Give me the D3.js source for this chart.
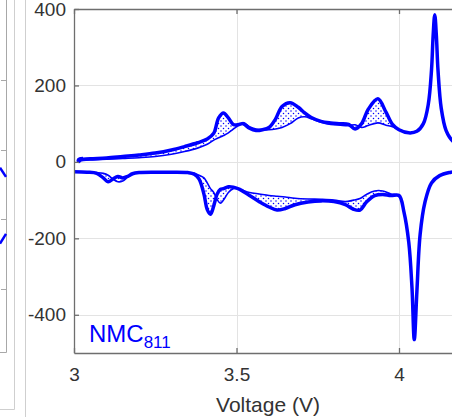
<!DOCTYPE html>
<html>
<head>
<meta charset="utf-8">
<script src="https://cdn.jsdelivr.net/npm/d3@7"></script>
<style>
  html, body { margin: 0; padding: 0; background: #fff; }
  svg { display: block; font-family: "Liberation Sans", Arial, sans-serif; }
</style>
</head>
<body>
<div id="chart"></div>
<script>
// dQ/dV style plot, NMC811 panel (neighbouring panel only partly visible on the left)

// ---------------------------------------------------------------------//
//                                 Data                                 //
// ---------------------------------------------------------------------//

// charge branch (positive), voltage grid shared by both cycles
var chgV = [3.02, 3.05, 3.10, 3.15, 3.20, 3.25, 3.30, 3.34, 3.38, 3.41, 3.43, 3.445, 3.46, 3.475,
  3.49, 3.505, 3.52, 3.54, 3.56, 3.58, 3.60, 3.62, 3.64, 3.665, 3.69, 3.71, 3.73, 3.76, 3.79,
  3.82, 3.845, 3.865, 3.885, 3.905, 3.935, 3.96, 3.98, 4.00, 4.03, 4.055, 4.075, 4.09, 4.10,
  4.105, 4.11, 4.115, 4.12, 4.13, 4.145, 4.165, 4.20];
// thick line (first cycle)
var chgThick = [6, 8, 10, 14, 18, 23, 31, 40, 50, 60, 75, 115, 128, 115,
  98, 97, 100, 88, 82, 84, 90, 112, 145, 155, 143, 128, 116, 106, 102,
  100, 98, 86, 100, 137, 165, 130, 98, 84, 76, 80, 100, 150, 240,
  330, 385, 330, 240, 140, 82, 55, 40];
// thin line (later cycle)
var chgThin = [3, 5, 7, 9, 11, 14, 20, 27, 36, 46, 57, 63, 69, 76,
  86, 95, 103, 92, 86, 84, 84, 86, 90, 100, 115, 118, 113, 104, 98,
  96, 95, 97, 90, 95, 102, 96, 92, 84, 76, 80, 100, 150, 240,
  330, 385, 330, 240, 140, 82, 55, 40];
// small curl where the thick charge line begins
var hookV = [3.028, 3.018, 3.013, 3.016, 3.02];
var hookI = [9, 8, 4, 1, 6];

// discharge branch (negative)
var dchV = [3.0, 3.04, 3.07, 3.09, 3.105, 3.12, 3.135, 3.15, 3.165, 3.18, 3.20, 3.25, 3.30,
  3.35, 3.37, 3.385, 3.40, 3.41, 3.42, 3.43, 3.44, 3.45, 3.46, 3.475, 3.49, 3.51, 3.54, 3.57,
  3.60, 3.625, 3.65, 3.68, 3.72, 3.76, 3.80, 3.835, 3.86, 3.88, 3.90, 3.925, 3.95, 3.975,
  4.00, 4.015, 4.03, 4.04, 4.047, 4.055, 4.065, 4.08, 4.10, 4.125, 4.16, 4.20];
var dchThick = [-26, -27, -30, -42, -52, -45, -38, -42, -38, -31, -28, -27, -27,
  -28, -32, -45, -85, -125, -137, -115, -85, -72, -70, -65, -66, -72, -88, -104,
  -118, -126, -122, -112, -105, -102, -104, -112, -124, -126, -105, -88, -85, -88,
  -88, -130, -210, -330, -465, -340, -190, -105, -55, -36, -27, -22];
var dchThin = [-26, -27, -28, -30, -35, -45, -52, -50, -40, -32, -28, -27, -27,
  -28, -30, -35, -42, -55, -70, -80, -98, -108, -100, -80, -70, -72, -80, -84,
  -88, -90, -92, -95, -97, -98, -100, -104, -100, -96, -85, -76, -76, -84,
  -88, -130, -210, -330, -465, -340, -190, -105, -55, -36, -27, -22];

// axes
var yTicks = [-400, -200, 0, 200, 400];
var xTicks = [3, 3.5, 4];
var xTickLabels = ["3", "3.5", "4"];

// neighbouring panel (only its right edge shows)
var leftTicks = [1, 0, -1, -2];
var leftFragX = [0.96, 1.0];
var leftFragUpper = [-0.26, -0.39];
var leftFragLower = [-1.35, -1.21];

// ---------------------------------------------------------------------//
//                               Set up                                 //
// ---------------------------------------------------------------------//

var width = 452, height = 417;
var blue = "#0000ff";

var svg = d3.select("#chart").append("svg")
  .attr("width", width)
  .attr("height", height);

svg.append("rect").attr("width", width).attr("height", height).attr("fill", "#fff");

var x = d3.scaleLinear().domain([3, 4.2]).range([74, 464]);
var y = d3.scaleLinear().domain([-500, 400]).range([353, 9]);

var defs = svg.append("defs");
defs.append("clipPath").attr("id", "plotclip")
  .append("rect")
  .attr("x", x.range()[0]).attr("y", y.range()[1])
  .attr("width", x.range()[1] - x.range()[0])
  .attr("height", y.range()[0] - y.range()[1]);

var pat = defs.append("pattern").attr("id", "dots")
  .attr("patternUnits", "userSpaceOnUse")
  .attr("width", 5).attr("height", 5);
pat.append("circle").attr("cx", 1).attr("cy", 1).attr("r", 0.75).attr("fill", blue);
pat.append("circle").attr("cx", 3.5).attr("cy", 3.5).attr("r", 0.75).attr("fill", blue);

// ---------------------------------------------------------------------//
//                   Neighbouring panel and frame lines                 //
// ---------------------------------------------------------------------//

var lx = d3.scaleLinear().domain([0, 1]).range([-144, 6]);
var ly = d3.scaleLinear().domain([1, -2]).range([80, 289]);

svg.append("path")
  .attr("d", "M0,352.5H6.5V0")
  .attr("fill", "none").attr("stroke", "#a8a8a8").attr("stroke-width", 1);
svg.selectAll(".ltick").data(leftTicks).enter().append("line")
  .attr("x1", 1).attr("x2", 6)
  .attr("y1", function(d) { return Math.round(ly(d)) + 0.5; })
  .attr("y2", function(d) { return Math.round(ly(d)) + 0.5; })
  .attr("stroke", "#a8a8a8");

var fragLine = d3.line()
  .x(function(d) { return lx(d[0]); })
  .y(function(d) { return ly(d[1]); });
[leftFragUpper, leftFragLower].forEach(function(vals) {
  svg.append("path")
    .attr("d", fragLine(d3.zip(leftFragX, vals)))
    .attr("fill", "none").attr("stroke", blue).attr("stroke-width", 2.5);
});

svg.append("path")
  .attr("d", "M0,409.5H14.5V0")
  .attr("fill", "none").attr("stroke", "#cfcfcf");
svg.append("line")
  .attr("x1", 25.5).attr("x2", 25.5).attr("y1", 0).attr("y2", height)
  .attr("stroke", "#cfcfcf");

// ---------------------------------------------------------------------//
//                           Grid and axes                              //
// ---------------------------------------------------------------------//

var grid = svg.append("g").attr("stroke", "#e3e3e3").attr("stroke-width", 1);
grid.selectAll(".gy").data(yTicks).enter().append("line")
  .attr("x1", x.range()[0]).attr("x2", x.range()[1])
  .attr("y1", function(d) { return Math.round(y(d)) + 0.5; })
  .attr("y2", function(d) { return Math.round(y(d)) + 0.5; });
grid.selectAll(".gx").data(xTicks.slice(1)).enter().append("line")
  .attr("y1", y.range()[0]).attr("y2", y.range()[1])
  .attr("x1", function(d) { return Math.round(x(d)) + 0.5; })
  .attr("x2", function(d) { return Math.round(x(d)) + 0.5; });

// ---------------------------------------------------------------------//
//                               Curves                                 //
// ---------------------------------------------------------------------//

var plot = svg.append("g").attr("clip-path", "url(#plotclip)");

var curve = d3.curveCatmullRom.alpha(0.5);

var band = d3.area()
  .curve(curve)
  .x(function(d) { return x(d[0]); })
  .y0(function(d) { return y(d[1]); })
  .y1(function(d) { return y(d[2]); });

var line = d3.line()
  .curve(curve)
  .x(function(d) { return x(d[0]); })
  .y(function(d) { return y(d[1]); });

plot.append("path")
  .attr("d", band(d3.zip(chgV, chgThin, chgThick)))
  .attr("fill", "url(#dots)");
plot.append("path")
  .attr("d", band(d3.zip(dchV, dchThin, dchThick)))
  .attr("fill", "url(#dots)");

plot.append("path")
  .attr("d", line(d3.zip(chgV, chgThin)))
  .attr("fill", "none").attr("stroke", blue).attr("stroke-width", 1.6);
plot.append("path")
  .attr("d", line(d3.zip(dchV, dchThin)))
  .attr("fill", "none").attr("stroke", blue).attr("stroke-width", 1.6);

plot.append("path")
  .attr("d", line(d3.zip(hookV, hookI).concat(d3.zip(chgV, chgThick))))
  .attr("fill", "none").attr("stroke", blue).attr("stroke-width", 3.5)
  .attr("stroke-linejoin", "round");
plot.append("path")
  .attr("d", line(d3.zip(dchV, dchThick)))
  .attr("fill", "none").attr("stroke", blue).attr("stroke-width", 3.5)
  .attr("stroke-linejoin", "round");

// ---------------------------------------------------------------------//
//                           Axes on top                                //
// ---------------------------------------------------------------------//

var axisColor = "#6e6e6e";
var textColor = "#333";

var yAxis = svg.append("g")
  .attr("transform", "translate(" + x.range()[0] + ",0)")
  .call(d3.axisLeft(y).tickValues(yTicks).tickSizeInner(-5).tickSizeOuter(0).tickPadding(8)
    .tickFormat(function(d) { return String(d); }));

var xAxis = svg.append("g")
  .attr("transform", "translate(0," + y.range()[0] + ")")
  .call(d3.axisBottom(x).tickValues(xTicks).tickSizeInner(-5).tickSizeOuter(0).tickPadding(15)
    .tickFormat(function(d, i) { return xTickLabels[i]; }));

var xTop = svg.append("g")
  .attr("transform", "translate(0," + y.range()[1] + ")")
  .call(d3.axisTop(x).tickValues(xTicks).tickSizeInner(-5).tickSizeOuter(0).tickFormat(""));

[yAxis, xAxis, xTop].forEach(function(g) {
  g.selectAll("path, line").attr("stroke", axisColor).attr("stroke-width", 1.3);
  g.selectAll("text").attr("fill", textColor).attr("font-size", 19)
    .attr("font-family", "Liberation Sans, Arial, sans-serif");
});

svg.append("text")
  .attr("x", (x.range()[0] + x.range()[1]) / 2 - 1)
  .attr("y", 412)
  .attr("text-anchor", "middle")
  .attr("font-size", 21)
  .attr("fill", textColor)
  .text("Voltage (V)");

// panel label
var lab = svg.append("text")
  .attr("x", 89).attr("y", 342)
  .attr("font-size", 24)
  .attr("fill", blue);
lab.append("tspan").text("NMC");
lab.append("tspan").attr("font-size", 17).attr("dy", 6).text("811");
</script>
</body>
</html>
